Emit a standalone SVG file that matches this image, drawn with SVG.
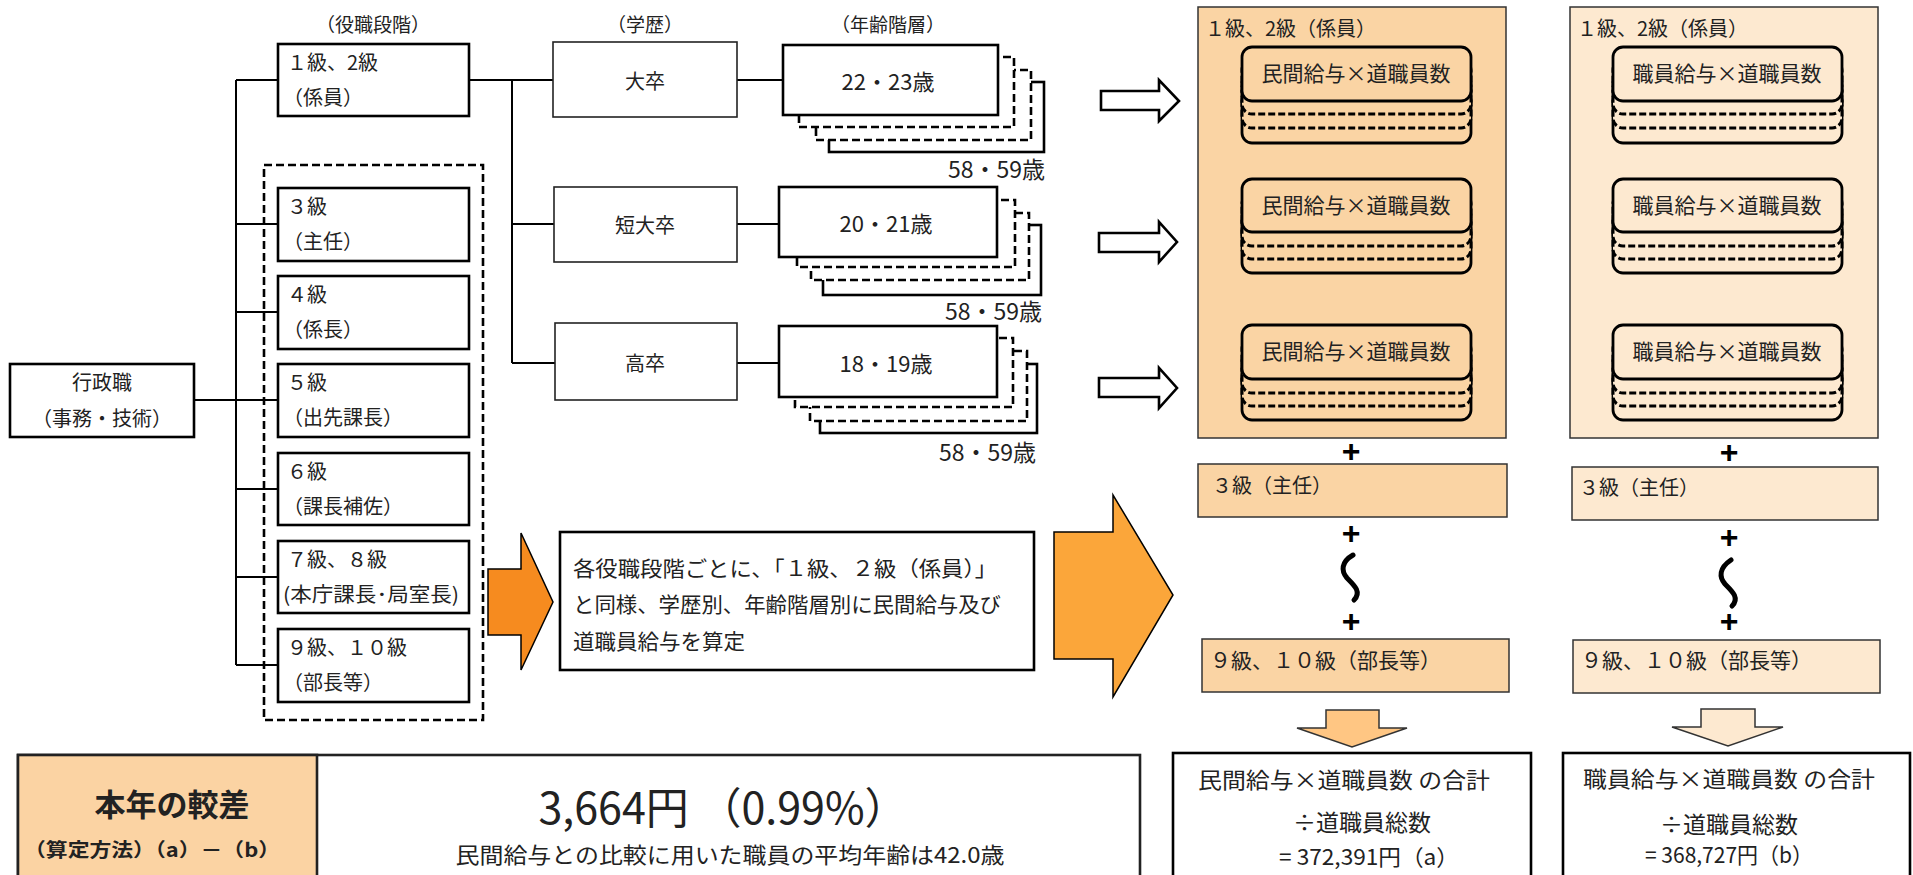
<svg xmlns="http://www.w3.org/2000/svg" width="1913" height="875" viewBox="0 0 1913 875">
<style>
text{font-family:"Noto Sans CJK JP","Liberation Sans",sans-serif;fill:#222;dominant-baseline:central}
.t19{font-size:19px}
.t20{font-size:20px}
.t21{font-size:21px}
.t22{font-size:22px}
.t23{font-size:23px}
.mid{text-anchor:middle}
.end{text-anchor:end}
.box{fill:#fff;stroke:#000;stroke-width:2.6}
.ebox{fill:#fff;stroke:#222;stroke-width:1.6}
.dash{fill:#fff;stroke:#000;stroke-width:2.6;stroke-dasharray:8 4}
.ln{fill:none;stroke:#000;stroke-width:2}
.p1{fill:#FAD4A4;stroke:#333;stroke-width:1.5}
.p2{fill:#FDE9D0;stroke:#333;stroke-width:1.5}
.r1{fill:#FAD4A4;stroke:#000;stroke-width:2.8}
.r2{fill:#FDE9D0;stroke:#000;stroke-width:2.8}
.rd1{fill:#FAD4A4;stroke:#000;stroke-width:3;stroke-dasharray:7 3}
.rd2{fill:#FDE9D0;stroke:#000;stroke-width:3;stroke-dasharray:7 3}
.harrow{fill:#fff;stroke:#000;stroke-width:2.6;stroke-linejoin:miter}
.plus{font-family:"Liberation Sans",sans-serif;font-size:32px;font-weight:bold;fill:#000;text-anchor:middle}
.wave{fill:none;stroke:#000;stroke-width:5;stroke-linecap:round}
</style>

<g id="connectors">
  <line class="ln" x1="236" y1="80" x2="236" y2="665"/>
  <line class="ln" x1="236" y1="80" x2="278" y2="80"/>
  <line class="ln" x1="236" y1="224" x2="278" y2="224"/>
  <line class="ln" x1="236" y1="312" x2="278" y2="312"/>
  <line class="ln" x1="194" y1="400" x2="278" y2="400"/>
  <line class="ln" x1="236" y1="489" x2="278" y2="489" stroke-width="2.6"/>
  <line class="ln" x1="236" y1="577" x2="278" y2="577" stroke-width="2.6"/>
  <line class="ln" x1="236" y1="665" x2="278" y2="665" stroke-width="2.6"/>
  <line class="ln" x1="469" y1="80" x2="553" y2="80"/>
  <line class="ln" x1="512" y1="80" x2="512" y2="363"/>
  <line class="ln" x1="512" y1="224" x2="554" y2="224"/>
  <line class="ln" x1="512" y1="363" x2="555" y2="363"/>
  <line class="ln" x1="737" y1="80" x2="783" y2="80" stroke-width="1.6"/>
  <line class="ln" x1="737" y1="224" x2="779" y2="224" stroke-width="1.6"/>
  <line class="ln" x1="737" y1="363" x2="779" y2="363" stroke-width="1.6"/>
</g>

<g id="headers">
  <text class="t19 mid" x="373" y="23">（役職段階）</text>
  <text class="t19 mid" x="645" y="23">（学歴）</text>
  <text class="t19 mid" x="888" y="23">（年齢階層）</text>
</g>

<g id="gyoseishoku">
  <rect class="box" x="10" y="364" width="184" height="73"/>
  <text class="t20 mid" x="102" y="381">行政職</text>
  <text class="t20 mid" x="102" y="417">（事務・技術）</text>
</g>

<g id="grade12">
  <rect class="box" x="278" y="44" width="191" height="72"/>
  <text class="t20" x="287" y="61">１級、2級</text>
  <text class="t20" x="283" y="96">（係員）</text>
</g>

<g id="grade-group">
  <rect x="264" y="165" width="219" height="555" fill="none" stroke="#000" stroke-width="2.6" stroke-dasharray="8 4"/>
</g>
<g id="grade3">
  <rect class="box" x="278" y="188" width="191" height="73"/>
  <text class="t20" x="287" y="205">３級</text>
  <text class="t20" x="283" y="240">（主任）</text>
</g>
<g id="grade4">
  <rect class="box" x="278" y="276" width="191" height="73"/>
  <text class="t20" x="287" y="293">４級</text>
  <text class="t20" x="283" y="328">（係長）</text>
</g>
<g id="grade5">
  <rect class="box" x="278" y="364" width="191" height="73"/>
  <text class="t20" x="287" y="381">５級</text>
  <text class="t20" x="283" y="416">（出先課長）</text>
</g>
<g id="grade6">
  <rect class="box" x="278" y="453" width="191" height="72"/>
  <text class="t20" x="287" y="470">６級</text>
  <text class="t20" x="283" y="505">（課長補佐）</text>
</g>
<g id="grade78">
  <rect class="box" x="278" y="541" width="191" height="72"/>
  <text class="t20" x="287" y="558">７級、８級</text>
  <text class="t20" x="283" y="593" textLength="176" lengthAdjust="spacingAndGlyphs">(本庁課長･局室長)</text>
</g>
<g id="grade910">
  <rect class="box" x="278" y="629" width="191" height="73"/>
  <text class="t20" x="287" y="646">９級、１０級</text>
  <text class="t20" x="283" y="681">（部長等）</text>
</g>

<g id="edu-daisotsu">
  <rect class="ebox" x="553" y="42" width="184" height="75"/>
  <text class="t20 mid" x="645" y="80">大卒</text>
</g>
<g id="edu-tandai">
  <rect class="ebox" x="554" y="187" width="183" height="75"/>
  <text class="t20 mid" x="645" y="224">短大卒</text>
</g>
<g id="edu-kosotsu">
  <rect class="ebox" x="555" y="323" width="182" height="77"/>
  <text class="t20 mid" x="645" y="362">高卒</text>
</g>

<g id="age-daisotsu">
  <rect class="box" x="829" y="82" width="215" height="70"/>
  <rect class="dash" x="816" y="70" width="215" height="70"/>
  <rect class="dash" x="799" y="57" width="215" height="70"/>
  <rect class="box" x="783" y="45" width="215" height="70"/>
  <text class="t22 mid" x="888" y="80">22・23歳</text>
  <text class="t23 end" x="1045" y="168">58・59歳</text>
</g>
<g id="age-tandai">
  <rect class="box" x="823" y="225" width="218" height="70"/>
  <rect class="dash" x="811" y="213" width="218" height="67"/>
  <rect class="dash" x="797" y="200" width="218" height="67"/>
  <rect class="box" x="779" y="187" width="218" height="70"/>
  <text class="t22 mid" x="886" y="222">20・21歳</text>
  <text class="t23 end" x="1042" y="310">58・59歳</text>
</g>
<g id="age-kosotsu">
  <rect class="box" x="820" y="364" width="217" height="69"/>
  <rect class="dash" x="810" y="351" width="217" height="70"/>
  <rect class="dash" x="795" y="338" width="218" height="69"/>
  <rect class="box" x="779" y="326" width="218" height="71"/>
  <text class="t22 mid" x="886" y="362">18・19歳</text>
  <text class="t23 end" x="1036" y="451">58・59歳</text>
</g>

<g id="hollow-arrows">
  <polygon class="harrow" points="1101,91 1159,91 1159,80 1179,101 1159,121 1159,110 1101,110"/>
  <polygon class="harrow" points="1099,233 1159,233 1159,222 1177,242 1159,262 1159,252 1099,252"/>
  <polygon class="harrow" points="1099,378 1159,378 1159,368 1177,388 1159,408 1159,397 1099,397"/>
</g>

<g id="arrow-small-orange">
  <polygon points="488,569 521,569 521,533 553,602 521,670 521,635 488,635" fill="#F68B1F" stroke="#000" stroke-width="1.5"/>
</g>

<g id="note">
  <rect class="box" x="560" y="532" width="474" height="138" stroke-width="3"/>
  <text class="t21" x="573" y="567" textLength="424" lengthAdjust="spacingAndGlyphs">各役職段階ごとに、「１級、２級（係員）」</text>
  <text class="t21" x="573" y="603" textLength="428" lengthAdjust="spacingAndGlyphs">と同様、学歴別、年齢階層別に民間給与及び</text>
  <text class="t21" x="573" y="640" textLength="172" lengthAdjust="spacingAndGlyphs">道職員給与を算定</text>
</g>

<g id="arrow-big-orange">
  <polygon points="1054,532 1113,532 1113,495 1173,595 1113,697 1113,659 1054,659" fill="#FBA63A" stroke="#000" stroke-width="1.5"/>
</g>

<g id="panel-private">
  <rect class="p1" x="1198" y="7" width="308" height="431"/>
  <text class="t20" x="1205" y="27">１級、2級（係員）</text>
  <rect class="r1" x="1242" y="89" width="229" height="54" rx="10"/>
  <rect class="rd1" x="1242" y="74" width="229" height="54" rx="10"/>
  <rect class="rd1" x="1242" y="60" width="229" height="54" rx="10"/>
  <rect class="r1" x="1242" y="47" width="229" height="54" rx="10"/>
  <text class="t21 mid" x="1356" y="72">民間給与×道職員数</text>
  <rect class="r1" x="1242" y="220" width="229" height="53" rx="10"/>
  <rect class="rd1" x="1242" y="206" width="229" height="53" rx="10"/>
  <rect class="rd1" x="1242" y="193" width="229" height="53" rx="10"/>
  <rect class="r1" x="1242" y="179" width="229" height="53" rx="10"/>
  <text class="t21 mid" x="1356" y="204">民間給与×道職員数</text>
  <rect class="r1" x="1242" y="366" width="229" height="54" rx="10"/>
  <rect class="rd1" x="1242" y="352" width="229" height="54" rx="10"/>
  <rect class="rd1" x="1242" y="339" width="229" height="54" rx="10"/>
  <rect class="r1" x="1242" y="325" width="229" height="54" rx="10"/>
  <text class="t21 mid" x="1356" y="350">民間給与×道職員数</text>
</g>

<g id="panel-staff">
  <rect class="p2" x="1570" y="7" width="308" height="431"/>
  <text class="t20" x="1577" y="27">１級、2級（係員）</text>
  <rect class="r2" x="1613" y="89" width="229" height="54" rx="10"/>
  <rect class="rd2" x="1613" y="74" width="229" height="54" rx="10"/>
  <rect class="rd2" x="1613" y="60" width="229" height="54" rx="10"/>
  <rect class="r2" x="1613" y="47" width="229" height="54" rx="10"/>
  <text class="t21 mid" x="1727" y="72">職員給与×道職員数</text>
  <rect class="r2" x="1613" y="220" width="229" height="53" rx="10"/>
  <rect class="rd2" x="1613" y="206" width="229" height="53" rx="10"/>
  <rect class="rd2" x="1613" y="193" width="229" height="53" rx="10"/>
  <rect class="r2" x="1613" y="179" width="229" height="53" rx="10"/>
  <text class="t21 mid" x="1727" y="204">職員給与×道職員数</text>
  <rect class="r2" x="1613" y="366" width="229" height="54" rx="10"/>
  <rect class="rd2" x="1613" y="352" width="229" height="54" rx="10"/>
  <rect class="rd2" x="1613" y="339" width="229" height="54" rx="10"/>
  <rect class="r2" x="1613" y="325" width="229" height="54" rx="10"/>
  <text class="t21 mid" x="1727" y="350">職員給与×道職員数</text>
</g>

<g id="private-lower">
  <text class="plus" x="1351" y="451">+</text>
  <rect class="p1" x="1198" y="464" width="309" height="53" stroke="#000" stroke-width="2"/>
  <text class="t20" x="1212" y="484">３級（主任）</text>
  <text class="plus" x="1351" y="533">+</text>
  <path class="wave" d="M1353,555 C1341,562 1341,571 1347,578 C1354,585 1362,592 1354,600"/>
  <text class="plus" x="1351" y="621">+</text>
  <rect class="p1" x="1202" y="639" width="307" height="53" stroke="#000" stroke-width="2"/>
  <text class="t21" x="1210" y="659">９級、１０級（部長等）</text>
  <polygon points="1326,710 1379,710 1379,728 1407,728 1352,747 1297,728 1326,728" fill="#FFC683" stroke="#333" stroke-width="1.5"/>
</g>

<g id="staff-lower">
  <text class="plus" x="1729" y="452">+</text>
  <rect class="p2" x="1572" y="467" width="306" height="53" stroke="#000" stroke-width="2"/>
  <text class="t20" x="1579" y="486">３級（主任）</text>
  <text class="plus" x="1729" y="537">+</text>
  <path class="wave" d="M1731,560 C1719,568 1719,577 1725,584 C1732,591 1740,598 1732,606"/>
  <text class="plus" x="1729" y="621">+</text>
  <rect class="p2" x="1573" y="640" width="307" height="53" stroke="#000" stroke-width="2"/>
  <text class="t21" x="1581" y="659">９級、１０級（部長等）</text>
  <polygon points="1701,709 1755,709 1755,727 1783,727 1728,746 1672,727 1701,727" fill="#FDE9D0" stroke="#333" stroke-width="1.5"/>
</g>

<g id="result-private">
  <rect class="box" x="1173" y="753" width="358" height="140"/>
  <text class="t22" x="1198" y="778" textLength="292" lengthAdjust="spacingAndGlyphs">民間給与×道職員数 の合計</text>
  <text class="t23 mid" x="1362" y="821">÷道職員総数</text>
  <text class="t22 mid" x="1369" y="855" textLength="180" lengthAdjust="spacingAndGlyphs">= 372,391円（a）</text>
</g>

<g id="result-staff">
  <rect class="box" x="1563" y="753" width="347" height="140"/>
  <text class="t22" x="1583" y="777" textLength="292" lengthAdjust="spacingAndGlyphs">職員給与×道職員数 の合計</text>
  <text class="t23 mid" x="1729" y="823">÷道職員総数</text>
  <text class="t22 mid" x="1729" y="853" textLength="168" lengthAdjust="spacingAndGlyphs">= 368,727円（b）</text>
</g>

<g id="summary">
  <rect x="18" y="755" width="1122" height="140" fill="#fff" stroke="#222" stroke-width="2.6"/>
  <rect x="18" y="755" width="299" height="140" fill="#FBD3A3" stroke="#222" stroke-width="2.6"/>
  <text class="mid" x="172" y="802" style="font-size:31px;font-weight:bold">本年の較差</text>
  <text class="mid" x="152" y="848" style="font-size:19px;font-weight:bold" textLength="256" lengthAdjust="spacingAndGlyphs">（算定方法）（a）－（b）</text>
  <text class="mid" x="723" y="805" style="font-size:43px">3,664円 （0.99%）</text>
  <text class="mid" x="730" y="853" style="font-size:22px" textLength="549" lengthAdjust="spacingAndGlyphs">民間給与との比較に用いた職員の平均年齢は42.0歳</text>
</g>
</svg>
